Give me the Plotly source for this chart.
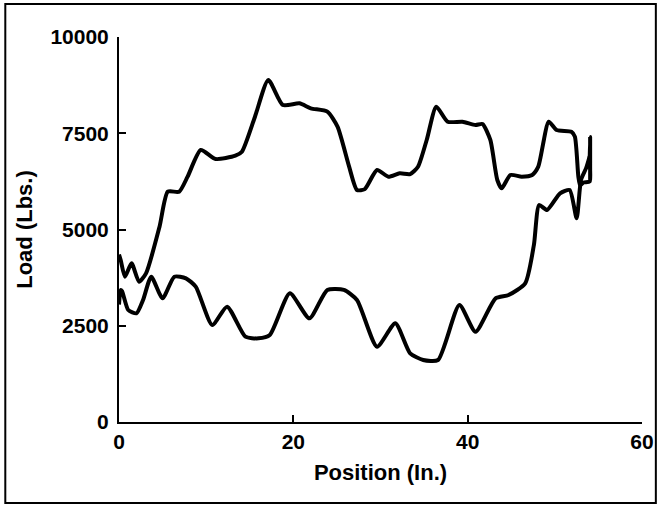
import plotly.graph_objects as go

# Load vs. position traces (two passes of the same run)
upper_x = [0.0, 0.2, 0.68, 1.44, 2.3, 3.1, 4.65, 5.6, 6.9, 7.87, 9.38, 11.08, 13.35, 14.1,
           15.6, 17.13, 18.8, 20.7, 22.0, 23.9, 25.07, 26.4, 27.3, 28.2, 29.6, 30.9, 32.2,
           33.4, 34.3, 35.3, 36.4, 37.7, 39.4, 40.9, 41.7, 42.6, 43.4, 43.9, 44.9, 46.2,
           47.4, 48.1, 49.3, 50.2, 51.9, 52.3, 52.7, 52.9, 53.3, 54.0, 54.0, 54.05, 54.05]
upper_y = [4350, 4200, 3774, 4121, 3644, 3860, 5073, 5982, 5982, 6372, 7065, 6831, 6917, 7021,
           7930, 8883, 8234, 8277, 8148, 8060, 7670, 6631, 6026, 6050, 6545, 6372, 6459,
           6441, 6631, 7325, 8190, 7800, 7800, 7714, 7740, 7325, 6286, 6070, 6416, 6372,
           6416, 6631, 7800, 7584, 7541, 7411, 6372, 6150, 6220, 6250, 6800, 7400, 6300]

lower_x = [0.0, 0.19, 0.35, 1.06, 2.0, 2.76, 3.7, 5.0, 6.35, 7.68, 8.8, 10.7, 12.4, 14.5,
           16.0, 17.3, 19.6, 21.85, 23.9, 25.8, 27.3, 29.6, 31.7, 33.4, 34.9, 36.6, 39.05,
           40.9, 43.2, 44.7, 46.6, 47.6, 48.2, 49.1, 50.6, 51.7, 52.5, 53.0, 53.6, 54.0]
lower_y = [3050, 3429, 3400, 2909, 2823, 3169, 3774, 3212, 3774, 3732, 3515, 2519, 2996, 2216,
           2173, 2260, 3343, 2693, 3429, 3429, 3169, 1956, 2563, 1784, 1610, 1610, 3039,
           2345, 3212, 3299, 3602, 4600, 5636, 5506, 5940, 6026, 5290, 6286, 6600, 6900]

x_ticks = [0, 20, 40, 60]
y_ticks = [0, 2500, 5000, 7500, 10000]

FONT = "Liberation Sans, Arial, Helvetica, sans-serif"
line_style = dict(color="black", width=4, shape="spline", smoothing=0.6)

fig = go.Figure()
fig.add_trace(go.Scatter(x=upper_x, y=upper_y, mode="lines", line=line_style,
                         showlegend=False, hoverinfo="skip"))
fig.add_trace(go.Scatter(x=lower_x, y=lower_y, mode="lines", line=line_style,
                         showlegend=False, hoverinfo="skip"))

L, R, T, B = 119, 18, 37, 85
W, H = 666, 507
pw, ph = W - L - R, H - T - B

# frame around the whole figure
fig.add_shape(type="rect", xref="paper", yref="paper",
              x0=(4 - L) / pw, x1=(662 - L) / pw,
              y0=(H - B - 503) / ph, y1=(H - B - 4) / ph,
              line=dict(color="black", width=2))

axis_common = dict(showline=True, linecolor="black", linewidth=2, ticks="inside",
                   ticklen=7, tickwidth=2, tickcolor="black", showgrid=False,
                   zeroline=False, mirror=False,
                   tickfont=dict(family=FONT, size=21, color="black", weight="bold"))

fig.update_xaxes(range=[0, 60], tickvals=x_ticks, ticktext=[str(v) for v in x_ticks],
                 title=dict(text="Position (In.)", standoff=12,
                            font=dict(family=FONT, size=22, color="black", weight="bold")),
                 **axis_common)
fig.update_yaxes(range=[0, 10000], tickvals=y_ticks, ticktext=[str(v) for v in y_ticks],
                 ticklabelstandoff=4,
                 title=dict(text="Load (Lbs.)", standoff=12,
                            font=dict(family=FONT, size=22, color="black", weight="bold")),
                 **axis_common)

fig.update_layout(width=W, height=H, margin=dict(l=L, r=R, t=T, b=B),
                  plot_bgcolor="white", paper_bgcolor="white")

fig.write_html("out.html")
